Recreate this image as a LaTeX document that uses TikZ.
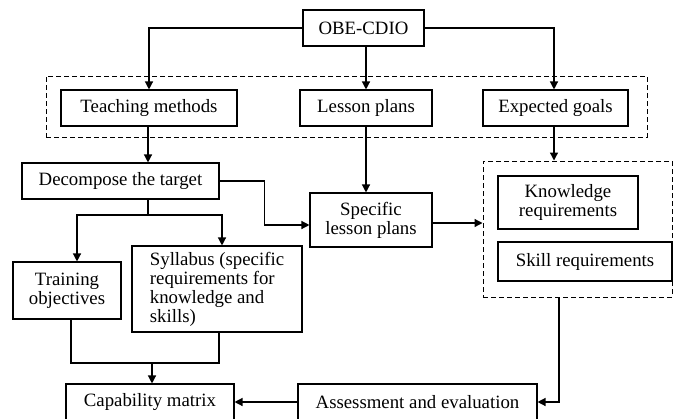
\documentclass[tikz,border=0pt]{standalone}
\usepackage{fontspec}
\setmainfont{Liberation Serif}
\usetikzlibrary{arrows.meta, positioning, calc}
\tikzset{
	box/.style      ={rectangle, draw=black, line width=1.1pt, align=center, inner sep=2pt, fill=white},
	grp/.style      ={rectangle, draw=black, line width=1pt, dash pattern=on 5pt off 3pt},
	link/.style     ={line width=1.3pt},
	flowarrow/.style={-{Triangle[length=8pt,width=8pt]}, line width=1.3pt},
}

\begin{document}
\begin{tikzpicture}[x=1pt, y=-1pt, font=\fontsize{18.8}{19}\selectfont]
			\clip (0,0) rectangle (675,418);
			\fill[white] (0,0) rectangle (675,418);
			% dashed groups
			\node[grp, minimum width=601pt, minimum height=61pt] (g1) at (346.5,106.5) {};
			\node[grp, minimum width=189pt, minimum height=136pt] (g2) at (577.5,229) {};
			% boxes
			\node[box, minimum width=121pt, minimum height=36pt] (obe) at (363.5,28) {OBE-CDIO};
			\node[box, minimum width=176pt, minimum height=36pt] (teach) at (149,108) {Teaching methods};
			\node[box, minimum width=132pt, minimum height=36pt] (lesson) at (366,108) {Lesson plans};
			\node[box, minimum width=145pt, minimum height=36pt] (goals) at (555.5,108) {Expected goals};
			\node[box, minimum width=197pt, minimum height=36pt] (decomp) at (120.5,181) {Decompose the target};
			\node[box, minimum width=122pt, minimum height=54pt] (spec) at (371,220) {Specific\\ lesson plans};
			\node[box, minimum width=140pt, minimum height=53pt] (know) at (568,202.5) {Knowledge\\ requirements};
			\node[box, minimum width=174pt, minimum height=39pt] (skill) at (585,261.5) {Skill requirements};
			\node[box, minimum width=108pt, minimum height=57pt] (train) at (67,290.5) {Training\\ objectives};
			\node[box, minimum width=170pt, minimum height=86pt, align=left] (syll) at (217,289) {Syllabus (specific\\ requirements for\\ knowledge and\\ skills)};
			\node[box, minimum width=168pt, minimum height=36pt] (capab) at (150,402) {Capability matrix};
			\node[box, minimum width=239pt, minimum height=36pt] (assess) at (417.5,402) {Assessment and evaluation};
			% connectors
			\draw[flowarrow] (obe.west) -| (teach.north);
			\draw[flowarrow] (obe.south -| lesson.north) -- (lesson.north);
			\draw[flowarrow] (obe.east) -| ([xshift=-1.5pt]goals.north);
			\draw[flowarrow] ([xshift=-1pt]teach.south) -- ([xshift=-1pt]teach.south |- decomp.north);
			\draw[flowarrow] (decomp.east) -- ++(45,0) |- ([yshift=-5pt]spec.west);
			\draw[flowarrow] (lesson.south) -- (lesson.south |- spec.north);
			\draw[flowarrow] ([xshift=-1.5pt]goals.south) -- ([xshift=-1.5pt]goals.south |- g2.north);
			\draw[flowarrow] ([yshift=-3pt]spec.east) -- ([yshift=-3pt]spec.east -| g2.west);
			\draw[flowarrow] ([xshift=-18.5pt]g2.south) |- (assess.east);
			\draw[flowarrow] (assess.west) -- (capab.east);
			\coordinate (split) at (148,215);
			\draw[link] (decomp.south -| split) -- (split);
			\draw[flowarrow] (split) -| ([xshift=10pt]train.north);
			\draw[flowarrow] (split) -| ([xshift=5pt]syll.north);
			\coordinate (join) at (152,363);
			\draw[link] ([xshift=4pt]train.south) |- (join) -| ([xshift=2pt]syll.south);
			\draw[flowarrow] (join) -- (join |- capab.north);
		\end{tikzpicture}
\end{document}
